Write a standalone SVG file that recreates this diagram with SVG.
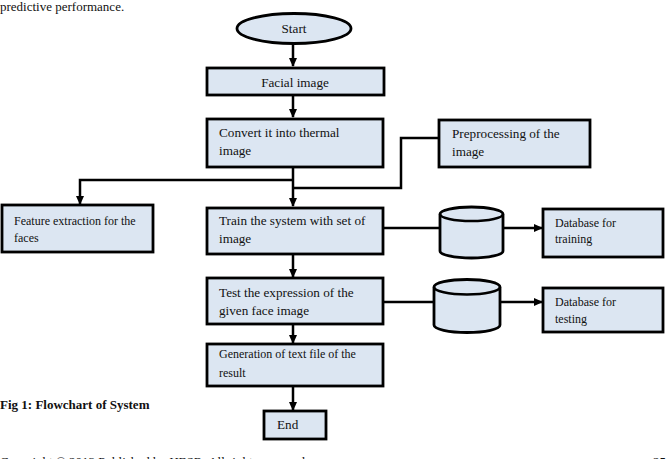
<svg xmlns="http://www.w3.org/2000/svg" width="668" height="459" viewBox="0 0 668 459" font-family="'Liberation Serif', 'Times New Roman', Times, serif">
<defs>
<style>
.box{fill:#dce6f2;stroke:#000;stroke-width:2.8}
.t{font-size:13.2px;fill:#111}
.s{font-size:12px}
.c{fill:none;stroke:#000;stroke-width:2.5}
.pg{font-size:13px;fill:#111}
</style>
<marker id="ah" markerWidth="10" markerHeight="10" refX="8" refY="4" orient="auto" markerUnits="userSpaceOnUse">
<path d="M0,0 L9,4 L0,8 Z" fill="#000"/>
</marker>
</defs>
<rect width="668" height="459" fill="#fff"/>
<text class="pg" x="0" y="11">predictive performance.</text>
<text class="pg" x="0" y="409" font-weight="bold">Fig 1: Flowchart of System</text>
<text class="pg" x="0" y="466">Copyright © 2013 Published by IJESR. All rights reserved</text>
<text class="pg" x="653" y="466">25</text>

<g id="connectors">
<path class="c" d="M293,44 V66" marker-end="url(#ah)"/>
<path class="c" d="M293,96 V117" marker-end="url(#ah)"/>
<path class="c" d="M293,167 V206" marker-end="url(#ah)"/>
<path class="c" d="M293,180 H80 V204" marker-end="url(#ah)"/>
<path class="c" d="M439,138 H401 V188 H293"/>
<path class="c" d="M293,254 V277" marker-end="url(#ah)"/>
<path class="c" d="M293,324 V343" marker-end="url(#ah)"/>
<path class="c" d="M293,387 V410" marker-end="url(#ah)"/>
<path class="c" d="M383,228 H440"/>
<path class="c" d="M503,228 H542" marker-end="url(#ah)"/>
<path class="c" d="M383,302 H433"/>
<path class="c" d="M500,302 H542" marker-end="url(#ah)"/>
</g>

<g id="start">
<ellipse class="box" cx="294" cy="28.5" rx="57" ry="15"/>
<text class="t" x="294" y="33" text-anchor="middle">Start</text>
</g>
<g id="facial">
<rect class="box" x="207" y="68" width="177" height="27"/>
<text class="t" x="295" y="87" text-anchor="middle">Facial image</text>
</g>
<g id="convert">
<rect class="box" x="207" y="119" width="176" height="48"/>
<text class="t" x="219" y="137">Convert it into thermal</text>
<text class="t" x="219" y="155">image</text>
</g>
<g id="preprocessing">
<rect class="box" x="439" y="120" width="151" height="47"/>
<text class="t" x="452" y="138">Preprocessing of the</text>
<text class="t" x="452" y="156">image</text>
</g>
<g id="feature">
<rect class="box" x="2" y="205" width="151" height="47"/>
<text class="t s" x="14" y="225">Feature extraction for the</text>
<text class="t s" x="14" y="242">faces</text>
</g>
<g id="train">
<rect class="box" x="207" y="208" width="176" height="46"/>
<text class="t" x="219" y="225">Train the system with set of</text>
<text class="t" x="219" y="243">image</text>
</g>
<g id="db-train-store">
<path class="box" d="M440,214 V251 A31.5,7 0 0 0 503,251 V214 A31.5,7 0 0 0 440,214 Z"/>
<path class="c" d="M440,214 A31.5,7 0 0 0 503,214" stroke-width="2.8"/>
</g>
<g id="db-training">
<rect class="box" x="543" y="209" width="120" height="48"/>
<text class="t s" x="555" y="227">Database for</text>
<text class="t s" x="555" y="243">training</text>
</g>
<g id="test">
<rect class="box" x="207" y="278" width="176" height="46"/>
<text class="t" x="219" y="297">Test the expression of the</text>
<text class="t" x="219" y="315">given face image</text>
</g>
<g id="db-test-store">
<path class="box" d="M434,287 V325 A33,7.5 0 0 0 500,325 V287 A33,7.5 0 0 0 434,287 Z"/>
<path class="c" d="M434,287 A33,7.5 0 0 0 500,287" stroke-width="2.8"/>
</g>
<g id="db-testing">
<rect class="box" x="543" y="288" width="120" height="44"/>
<text class="t s" x="555" y="306">Database for</text>
<text class="t s" x="555" y="323">testing</text>
</g>
<g id="generation">
<rect class="box" x="207" y="344" width="176" height="42"/>
<text class="t s" x="219" y="358">Generation of text file of the</text>
<text class="t s" x="219" y="377">result</text>
</g>
<g id="end">
<rect class="box" x="264" y="411" width="62" height="28"/>
<text class="t" x="277" y="429">End</text>
</g>
</svg>
